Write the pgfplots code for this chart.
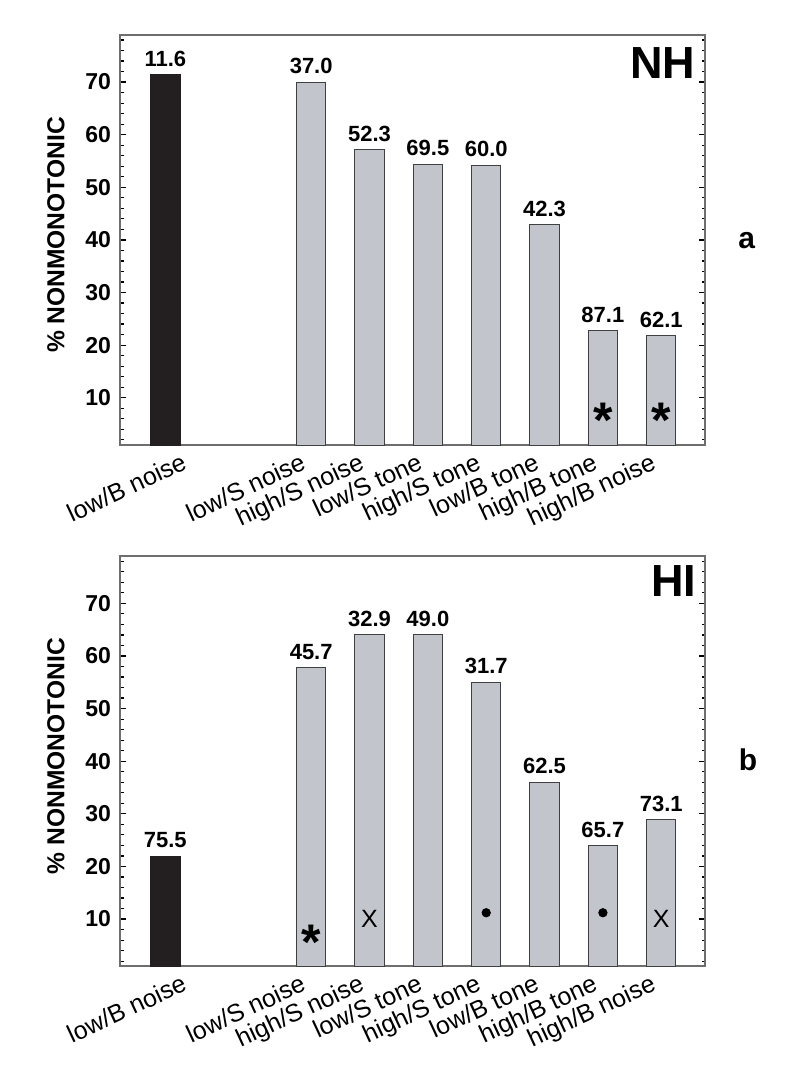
\documentclass[border=0pt]{standalone}
\usepackage{pgfplots}
\pgfplotsset{compat=1.18}
\usepackage{fontspec}
\setmainfont{Liberation Sans}

\definecolor{barg}{HTML}{C2C5CC}
\definecolor{barblk}{HTML}{231F20}
\definecolor{framec}{HTML}{6E6E6E}

% shared look of the two panels (1px of the reference = 0.5pt)
\pgfplotsset{
  nmpanel/.style={
    scale only axis, width=292.3pt, height=205.2pt, anchor=north west,
    xmin=-0.77, xmax=9.25, ymin=1, ymax=79,
    ytick={10,20,...,70}, minor ytick={2,4,...,78},
    xtick={0.25,2.29,3.29,4.29,5.29,6.29,7.29,8.29},
    xticklabels={low/B noise,low/S noise,high/S noise,low/S tone,high/S tone,low/B tone,high/B tone,high/B noise},
    xtick style={draw=none},
    ytick style={black, line width=0.6pt},
    major tick length=3pt, minor tick length=1.75pt,
    tick align=inside,
    axis line style={framec, line width=1pt},
    /pgf/number format/assume math mode=true,
    yticklabel style={font=\fontsize{11.5}{13}\selectfont\bfseries, inner sep=0pt, xshift=-4.5pt},
    xticklabel style={font=\fontsize{12.5}{14}\selectfont, rotate=25, anchor=north east, inner sep=1pt, yshift=-2pt},
    nodes near coords style={font=\fontsize{11}{12}\selectfont\bfseries, inner sep=3.8pt},
  },
  blackbar/.style={ybar, bar width=0.5, bar shift=0pt, fill=barblk, draw=barblk,
    nodes near coords, point meta=explicit symbolic},
  graybar/.style={ybar, bar width=0.5, bar shift=0pt, fill=barg, draw=black!75, line width=0.5pt,
    nodes near coords, point meta=explicit symbolic},
  starmark/.style={only marks, mark=text, text mark={*}, text mark as node=true,
    text mark style={font=\fontsize{25}{25}\selectfont\bfseries, anchor=center, yshift=-5.4pt}},
  xmark/.style={only marks, mark=text, text mark={X}, text mark as node=true,
    text mark style={font=\fontsize{12.5}{14}\selectfont, anchor=center}},
  dotmark/.style={only marks, mark=*, mark size=2.1pt, black},
}

\begin{document}
\begin{tikzpicture}
\path[use as bounding box] (0,0) rectangle (400pt,-538pt);

% panel a: NH
\begin{axis}[nmpanel, at={(60.2pt,-17.35pt)}]
  \addplot[blackbar] coordinates {(0,71.4)[11.6]};
  \addplot[graybar] coordinates {
    (2.5,70.0)[37.0] (3.5,57.2)[52.3] (4.5,54.4)[69.5] (5.5,54.2)[60.0]
    (6.5,42.9)[42.3] (7.5,22.7)[87.1] (8.5,21.8)[62.1]};
  \addplot[starmark] coordinates {(7.5,7.8) (8.5,7.8)};
  \node[anchor=north east, inner sep=0pt, xshift=-4.75pt, yshift=-6pt]
    at (rel axis cs:1,1) {\fontsize{22.5}{24}\selectfont\bfseries NH};
\end{axis}

% panel b: HI
\begin{axis}[nmpanel, at={(60.2pt,-278pt)}]
  \addplot[blackbar] coordinates {(0,22.0)[75.5]};
  \addplot[graybar] coordinates {
    (2.5,57.8)[45.7] (3.5,64.0)[32.9] (4.5,64.0)[49.0] (5.5,55.0)[31.7]
    (6.5,36.0)[62.5] (7.5,24.0)[65.7] (8.5,28.9)[73.1]};
  \addplot[starmark] coordinates {(2.5,7.6)};
  \addplot[xmark] coordinates {(3.5,10) (8.5,10)};
  \addplot[dotmark] coordinates {(5.5,11.2) (7.5,11.2)};
  \node[anchor=north east, inner sep=0pt, xshift=-4.2pt, yshift=-4.5pt]
    at (rel axis cs:1,1) {\fontsize{22.5}{24}\selectfont\bfseries HI};
\end{axis}

\node[rotate=90, font=\fontsize{12.3}{14}\selectfont\bfseries] at (28pt,-117.5pt) {\% NONMONOTONIC};
\node[rotate=90, font=\fontsize{12.3}{14}\selectfont\bfseries] at (28pt,-378pt) {\% NONMONOTONIC};
\node[font=\fontsize{15}{17}\selectfont\bfseries] at (373.4pt,-120.3pt) {a};
\node[font=\fontsize{15}{17}\selectfont\bfseries] at (374pt,-380pt) {b};
\end{tikzpicture}
\end{document}
